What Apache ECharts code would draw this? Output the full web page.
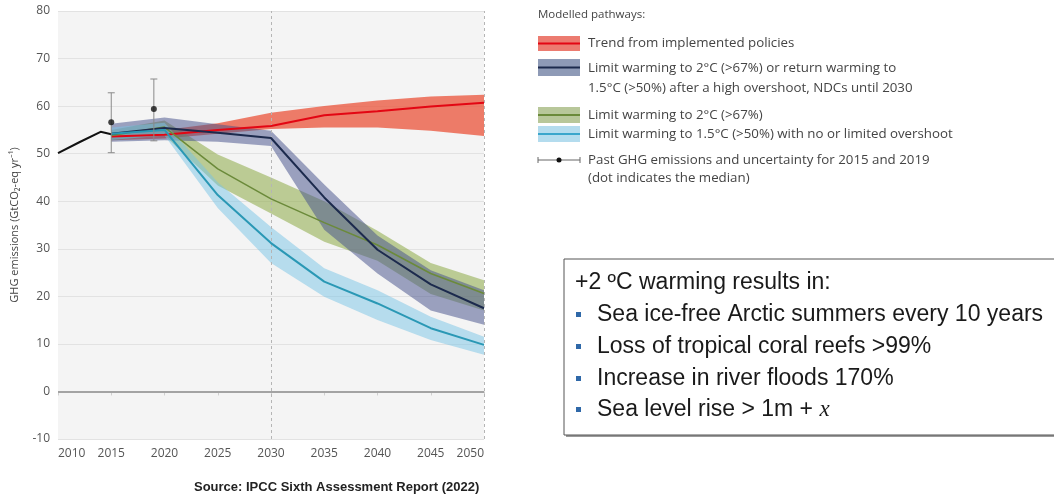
<!DOCTYPE html>
<html>
<head>
<meta charset="utf-8">
<script src="https://cdn.jsdelivr.net/npm/echarts@6/dist/echarts.min.js"></script>
<style>
  html, body { margin: 0; padding: 0; background: #ffffff; }
  #chart { width: 1054px; height: 497px; }
</style>
</head>
<body>
<div id="chart"></div>
<script>
// Modelled years shared by all pathway bands
const years = [2015, 2020, 2025, 2030, 2035, 2040, 2045, 2050];

// Trend from implemented policies (GtCO2-eq/yr)
const policiesMid  = [53.6, 54.0, 55.0, 55.8, 58.1, 58.9, 59.9, 60.7];
const policiesLow  = [52.8, 53.2, 54.2, 55.2, 55.5, 55.5, 54.8, 53.7];
const policiesHigh = [54.4, 55.0, 56.4, 58.6, 60.0, 61.2, 62.0, 62.4];

// 2°C (>67%) or 1.5°C after high overshoot, NDCs until 2030
const ndcMid  = [54.2, 55.4, 54.4, 53.3, 40.8, 29.8, 22.5, 17.5];
const ndcLow  = [52.5, 52.8, 52.5, 51.6, 34.0, 24.8, 17.0, 14.0];
const ndcHigh = [56.3, 57.6, 56.2, 54.8, 43.5, 32.8, 25.5, 21.3];

// Limit warming to 2°C (>67%)
const twoMid  = [53.8, 55.6, 46.8, 40.5, 35.5, 30.8, 24.8, 20.6];
const twoLow  = [52.8, 53.8, 43.3, 37.4, 31.5, 27.5, 20.5, 17.0];
const twoHigh = [55.0, 57.0, 49.8, 45.0, 40.0, 33.8, 27.0, 23.4];

// Limit warming to 1.5°C (>50%) with no or limited overshoot
const onePointFiveMid  = [54.2, 55.0, 41.3, 31.2, 23.1, 18.5, 13.3, 9.8];
const onePointFiveLow  = [52.9, 53.8, 38.6, 27.0, 19.9, 15.0, 10.8, 7.7];
const onePointFiveHigh = [55.5, 56.5, 44.0, 34.6, 25.9, 21.3, 15.7, 11.5];

// Past emissions
const pastYears  = [2010, 2012, 2014, 2015];
const pastValues = [50.1, 52.4, 54.6, 54.1];

// Past emissions uncertainty (low, median, high)
const obsYears  = [2015, 2019];
const obsLow    = [50.2, 52.7];
const obsMedian = [56.6, 59.4];
const obsHigh   = [62.8, 65.7];

// Axis ranges
const xRange = [2010, 2050, 5];
const yRange = [-10, 80, 10];
const markYears = [2030, 2050];

const legendTitle = 'Modelled pathways:';
const legendItems = [
  { lines: ['Trend from implemented policies'], fill: '#ec7b70', line: '#e30613' },
  { lines: ['Limit warming to 2°C (>67%) or return warming to', '1.5°C (>50%) after a high overshoot, NDCs until 2030'], fill: '#8e9ab6', line: '#1c2a4d' },
  { lines: ['Limit warming to 2°C (>67%)'], fill: '#b8c79a', line: '#6b8a3a' },
  { lines: ['Limit warming to 1.5°C (>50%) with no or limited overshoot'], fill: '#b4dcee', line: '#3aa6cc' }
];
const pastLegend = ['Past GHG emissions and uncertainty for 2015 and 2019', '(dot indicates the median)'];
const impactTitle = '+2 ºC warming results in:';
const impactItems = [
  'Sea ice-free Arctic summers every 10 years',
  'Loss of tropical coral reefs >99%',
  'Increase in river floods 170%'
];
const sourceNote = 'Source: IPCC Sixth Assessment Report (2022)';

const chart = echarts.init(document.getElementById('chart'), null, { renderer: 'canvas' });

function band(name, lo, hi, fill) {
  return {
    type: 'custom',
    name: name,
    silent: true,
    data: years.map((y, i) => [y, lo[i], hi[i]]),
    encode: { x: 0, y: [1, 2] },
    renderItem: function (params, api) {
      if (params.dataIndex !== 0) return null;
      const pts = [];
      for (let i = 0; i < years.length; i++) pts.push(api.coord([years[i], hi[i]]));
      for (let i = years.length - 1; i >= 0; i--) pts.push(api.coord([years[i], lo[i]]));
      return { type: 'polygon', shape: { points: pts }, style: { fill: fill } };
    }
  };
}

function median(name, vals, color, width) {
  return {
    type: 'line',
    name: name,
    silent: true,
    data: years.map((y, i) => [y, vals[i]]),
    symbol: 'none',
    lineStyle: { color: color, width: width },
    z: 5
  };
}

const FONT = '"Open Sans", "Noto Sans", sans-serif';
const ARIAL = '"Liberation Sans", Arial, sans-serif';
const LEG_FONT = '13.3px ' + FONT;

// Legend graphics
const legendX = 538;
const graphics = [];
graphics.push({ type: 'text', x: legendX, y: 15, style: { text: legendTitle, font: '11.5px ' + FONT, fill: '#444', verticalAlign: 'middle' } });
const swatchTops = [36, 59, 107, 126];
const swatchH = [15, 17, 16, 16];
const textCenters = [[43], [68, 88], [115], [134]];
legendItems.forEach((it, k) => {
  const h = swatchH[k];
  graphics.push({ type: 'rect', shape: { x: legendX, y: swatchTops[k], width: 42, height: h }, style: { fill: it.fill } });
  graphics.push({ type: 'line', shape: { x1: legendX, y1: swatchTops[k] + h / 2, x2: legendX + 42, y2: swatchTops[k] + h / 2 }, style: { stroke: it.line, lineWidth: 2 } });
  it.lines.forEach((t, j) => {
    graphics.push({ type: 'text', x: 588, y: textCenters[k][j], style: { text: t, font: LEG_FONT, fill: '#444', verticalAlign: 'middle' } });
  });
});
// Past emissions legend symbol
graphics.push({ type: 'line', shape: { x1: legendX, y1: 160, x2: legendX + 42, y2: 160 }, style: { stroke: '#666', lineWidth: 1 } });
graphics.push({ type: 'line', shape: { x1: legendX, y1: 157, x2: legendX, y2: 163 }, style: { stroke: '#666', lineWidth: 1 } });
graphics.push({ type: 'line', shape: { x1: legendX + 42, y1: 157, x2: legendX + 42, y2: 163 }, style: { stroke: '#666', lineWidth: 1 } });
graphics.push({ type: 'circle', shape: { cx: legendX + 21, cy: 160, r: 2.5 }, style: { fill: '#111' } });
graphics.push({ type: 'text', x: 588, y: 160, style: { text: pastLegend[0], font: LEG_FONT, fill: '#444', verticalAlign: 'middle' } });
graphics.push({ type: 'text', x: 588, y: 178, style: { text: pastLegend[1], font: LEG_FONT, fill: '#444', verticalAlign: 'middle' } });

// Impacts box
graphics.push({ type: 'rect', shape: { x: 566, y: 261, width: 500, height: 176 }, style: { fill: '#9a9a9a' } });
graphics.push({ type: 'rect', shape: { x: 564, y: 259, width: 500, height: 176 }, style: { fill: '#ffffff', stroke: '#555', lineWidth: 1 } });
const BOX_FONT = '23px ' + ARIAL;
graphics.push({ type: 'text', x: 575, y: 283, style: { text: impactTitle, font: BOX_FONT, fill: '#1a1a1a', verticalAlign: 'middle' } });
const lineYs = [315, 347, 379, 410];
impactItems.forEach((t, k) => {
  graphics.push({ type: 'rect', shape: { x: 576, y: lineYs[k] - 3, width: 5, height: 5 }, style: { fill: '#2f68a8' } });
  graphics.push({ type: 'text', x: 597, y: lineYs[k], style: { text: t, font: BOX_FONT, fill: '#1a1a1a', verticalAlign: 'middle' } });
});
graphics.push({ type: 'rect', shape: { x: 576, y: lineYs[3] - 3, width: 5, height: 5 }, style: { fill: '#2f68a8' } });
graphics.push({
  type: 'text', x: 597, y: lineYs[3],
  style: {
    text: '{a|Sea level rise > 1m + }{b|x}',
    verticalAlign: 'middle',
    rich: {
      a: { font: BOX_FONT, fill: '#1a1a1a' },
      b: { font: 'italic 23px "Liberation Serif", "DejaVu Serif", serif', fill: '#1a1a1a' }
    }
  }
});
// Source note
graphics.push({ type: 'text', x: 194, y: 487, style: { text: sourceNote, font: 'bold 13px ' + ARIAL, fill: '#222', verticalAlign: 'middle' } });

const option = {
  animation: false,
  backgroundColor: '#ffffff',
  grid: { left: 58, right: 570, top: 11, bottom: 58, show: true, backgroundColor: '#f4f4f4', borderWidth: 0 },
  xAxis: {
    type: 'value', min: xRange[0], max: xRange[1], interval: xRange[2],
    axisLine: { show: false },
    axisTick: { show: true, length: 4, lineStyle: { color: '#cfcfcf' } },
    splitLine: { show: false },
    axisLabel: {
      color: '#555', fontSize: 12, fontFamily: FONT, margin: 9,
      alignMinLabel: 'left', alignMaxLabel: 'right',
      formatter: v => String(v)
    }
  },
  yAxis: {
    type: 'value', min: yRange[0], max: yRange[1], interval: yRange[2],
    name: 'GHG emissions (GtCO₂-eq yr⁻¹)',
    nameLocation: 'middle', nameGap: 38, nameRotate: 90,
    nameTextStyle: { color: '#444', fontSize: 11, fontFamily: FONT },
    axisLine: { show: false }, axisTick: { show: false },
    splitLine: { lineStyle: { color: '#e2e2e2', width: 1 } },
    axisLabel: { color: '#555', fontSize: 12, fontFamily: FONT, margin: 8 }
  },
  graphic: graphics,
  series: [
    {
      type: 'line', name: 'reference lines', data: [], silent: true,
      markLine: {
        silent: true, symbol: 'none', label: { show: false },
        data: markYears.map(y => ({ xAxis: y, lineStyle: { color: '#b5b5b5', type: [3, 3], width: 1 } }))
          .concat([{ yAxis: 0, lineStyle: { color: '#a3a3a3', type: 'solid', width: 2 } }])
      }
    },
    band('policies band', policiesLow, policiesHigh, 'rgba(234,88,64,0.78)'),
    band('2°C band', twoLow, twoHigh, 'rgba(140,170,70,0.55)'),
    band('NDC band', ndcLow, ndcHigh, 'rgba(70,82,140,0.52)'),
    band('1.5°C band', onePointFiveLow, onePointFiveHigh, 'rgba(120,195,230,0.5)'),
    median('policies', policiesMid, '#e30613', 2),
    median('2°C', twoMid, '#6b8a3a', 1.5),
    median('NDC', ndcMid, '#1c2a4d', 2),
    median('1.5°C', onePointFiveMid, '#2a98b5', 2),
    {
      type: 'line', name: 'past', silent: true,
      data: pastYears.map((y, i) => [y, pastValues[i]]),
      symbol: 'none', lineStyle: { color: '#111', width: 2 }, z: 6
    },
    {
      type: 'custom', name: 'uncertainty', silent: true,
      data: obsYears.map((y, i) => [y, obsLow[i], obsHigh[i]]),
      encode: { x: 0, y: [1, 2] },
      renderItem: function (params, api) {
        const lo = api.coord([api.value(0), api.value(1)]);
        const hi = api.coord([api.value(0), api.value(2)]);
        const st = { stroke: '#8a8a8a', lineWidth: 1 };
        return {
          type: 'group',
          children: [
            { type: 'line', shape: { x1: lo[0], y1: lo[1], x2: hi[0], y2: hi[1] }, style: st },
            { type: 'line', shape: { x1: lo[0] - 3.5, y1: lo[1], x2: lo[0] + 3.5, y2: lo[1] }, style: st },
            { type: 'line', shape: { x1: hi[0] - 3.5, y1: hi[1], x2: hi[0] + 3.5, y2: hi[1] }, style: st }
          ]
        };
      },
      z: 7
    },
    {
      type: 'scatter', name: 'median', silent: true,
      data: obsYears.map((y, i) => [y, obsMedian[i]]),
      symbol: 'circle', symbolSize: 6, itemStyle: { color: '#111' }, z: 8
    }
  ]
};

chart.setOption(option);
</script>
</body>
</html>
